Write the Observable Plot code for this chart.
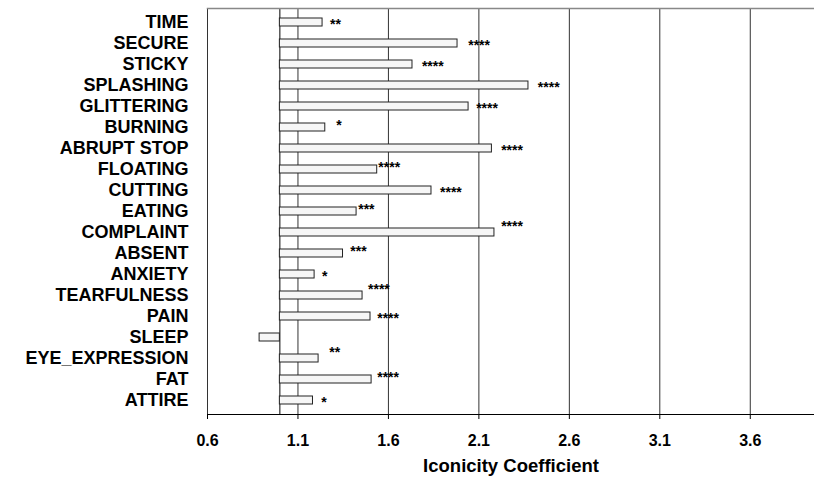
<!DOCTYPE html>
<html><head><meta charset="utf-8">
<script src="https://cdn.jsdelivr.net/npm/d3@7"></script>
<script src="https://cdn.jsdelivr.net/npm/@observablehq/plot@0.6"></script>
<style>
html,body{margin:0;padding:0;background:#fff;}
</style></head><body><div id="chart"></div>
<script>
const categories = ["TIME","SECURE","STICKY","SPLASHING","GLITTERING","BURNING","ABRUPT STOP","FLOATING","CUTTING","EATING","COMPLAINT","ABSENT","ANXIETY","TEARFULNESS","PAIN","SLEEP","EYE_EXPRESSION","FAT","ATTIRE"];
const values = [1.236,1.982,1.733,2.374,2.043,1.251,2.172,1.538,1.838,1.424,2.186,1.349,1.192,1.457,1.501,0.888,1.214,1.507,1.183];
const stars = ["**","****","****","****","****","*","****","****","****","***","****","***","*","****","****","","**","****","*"];
// coefficient value at which each significance marker begins
const starAt = [1.277,2.041,1.785,2.426,2.085,1.312,2.223,1.544,1.885,1.433,2.223,1.389,1.233,1.487,1.538,null,1.273,1.538,1.229];
// 0 = level with bar, 1 = slightly raised, 2 = raised
const starLift = [0,0,0,0,0,1,0,1,0,1,2,1,0,2,0,0,2,1,0];
const xTicks = [0.6,1.1,1.6,2.1,2.6,3.1,3.6];
const baseline = 1.0;
const xLabel = "Iconicity Coefficient";

const rows = categories.map((c,i)=>({category:c, value:values[i], star:stars[i], starAt:starAt[i], lift:starLift[i]}));
const font = "Arial, 'Liberation Sans', Helvetica, sans-serif";
const liftDy = [2,-2,-6];

const chart = Plot.plot({
  width:814, height:487,
  marginLeft:207, marginRight:0, marginTop:8, marginBottom:73,
  style:{fontFamily:font, background:"#fff", color:"#000", fontWeight:"bold", overflow:"visible"},
  x:{domain:[0.6, 3.955]},
  y:{domain:categories, paddingInner:0.6, paddingOuter:0.3},
  marks:[
    Plot.ruleX(xTicks, {stroke:"#333", strokeWidth:1}),
    Plot.ruleX([baseline], {stroke:"#000", strokeWidth:1}),
    Plot.frame({anchor:"top", stroke:"#888", strokeWidth:1.5}),
    Plot.frame({anchor:"bottom", stroke:"#000", strokeWidth:1}),
    Plot.barX(rows, {y:"category", x1:baseline, x2:"value", fill:"#f6f6f6", stroke:"#222", strokeWidth:1}),
    ...[0,1,2].map(l => Plot.text(rows.filter(r => r.star && r.lift === l), {
      x:"starAt", y:"category", text:"star", textAnchor:"start",
      fontSize:14, fontWeight:"bold", dy:liftDy[l], fill:"#000"
    })),
    Plot.axisX({ticks:xTicks, tickFormat:d => d.toFixed(1), tickSize:5, tickPadding:15, fontSize:16, label:null, stroke:"#000"}),
    Plot.axisY({tickSize:0, tickPadding:19, fontSize:18, label:null}),
    Plot.text([xLabel], {text:d => d, frameAnchor:"bottom", dy:57, fontSize:18.5, fontWeight:"bold", fill:"#000"})
  ]
});
document.getElementById("chart").appendChild(chart);
</script>
</body></html>
